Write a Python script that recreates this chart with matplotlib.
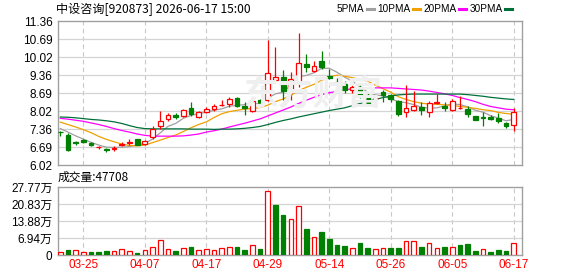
import numpy as np
import matplotlib
matplotlib.use("Agg")
import matplotlib.pyplot as plt
from matplotlib.lines import Line2D

# ---------------- data ----------------
dates = ['03-20','03-23','03-24','03-25','03-26','03-27','03-30','03-31','04-01','04-02',
         '04-03','04-07','04-08','04-09','04-10','04-13','04-14','04-15','04-16','04-17',
         '04-20','04-21','04-22','04-23','04-24','04-27','04-28','04-29','04-30','05-06',
         '05-07','05-08','05-11','05-12','05-13','05-14','05-15','05-18','05-19','05-20',
         '05-21','05-22','05-25','05-26','05-27','05-28','05-29','06-01','06-02','06-03',
         '06-04','06-05','06-08','06-09','06-10','06-11','06-12','06-15','06-16','06-17']

open_ = [7.25, 7.12, 6.86, 6.93, 6.83, 6.67, 6.61, 6.63, 6.77, 6.85,
         6.98, 6.80, 7.06, 7.48, 7.72, 7.89, 7.84, 8.12, 7.81, 7.99,
         8.08, 8.24, 8.27, 8.52, 8.20, 8.03, 8.43, 8.44, 9.16, 9.30,
         8.78, 9.07, 9.78, 9.50, 9.88, 9.31, 9.08, 9.03, 8.80, 8.93,
         8.63, 8.49, 8.72, 8.60, 8.38, 7.98, 8.07, 8.16, 8.00, 8.31,
         8.22, 8.07, 8.13, 8.10, 7.82, 7.79, 7.80, 7.76, 7.57, 7.52]
high = [7.27, 7.21, 6.90, 6.98, 6.88, 6.73, 6.66, 6.72, 6.86, 6.97,
        7.00, 6.93, 7.48, 8.01, 7.93, 7.95, 8.08, 8.35, 8.01, 8.16,
        8.30, 8.42, 8.56, 8.55, 8.35, 8.45, 8.47, 10.66, 10.38, 9.55,
        9.46, 10.90, 10.12, 9.89, 10.26, 9.58, 9.26, 9.15, 8.97, 9.03,
        8.68, 8.56, 8.80, 8.66, 8.42, 9.00, 8.77, 8.35, 8.40, 8.65,
        8.35, 8.47, 8.58, 8.19, 7.85, 7.98, 7.86, 7.93, 7.63, 8.12]
low = [7.10, 6.55, 6.76, 6.85, 6.73, 6.63, 6.51, 6.55, 6.74, 6.78,
       6.76, 6.77, 7.00, 7.37, 7.66, 7.72, 7.80, 7.85, 7.75, 7.95,
       8.03, 8.22, 8.17, 8.18, 7.87, 7.98, 8.21, 8.41, 9.12, 8.43,
       8.42, 8.93, 9.48, 9.47, 9.59, 9.21, 8.98, 8.68, 8.68, 8.51,
       8.23, 8.27, 8.35, 8.35, 7.82, 7.80, 8.03, 7.86, 7.80, 8.28,
       8.04, 8.04, 8.10, 7.80, 7.68, 7.45, 7.68, 7.58, 7.41, 7.29]
close = [7.23, 6.57, 6.84, 6.88, 6.77, 6.69, 6.59, 6.65, 6.81, 6.87,
         6.78, 6.90, 7.37, 7.66, 7.86, 7.81, 8.05, 7.92, 7.97, 8.11,
         8.19, 8.26, 8.48, 8.22, 8.14, 8.38, 8.24, 9.42, 9.30, 8.77,
         9.20, 9.80, 9.65, 9.68, 9.66, 9.26, 9.05, 8.79, 8.92, 8.58,
         8.28, 8.51, 8.61, 8.48, 7.90, 8.14, 8.22, 8.06, 8.33, 8.34,
         8.12, 8.38, 8.15, 7.92, 7.70, 7.78, 7.71, 7.65, 7.46, 7.98]

# volume in 万 (10k shares)
volume = [1.1, 2.0, 1.9, 1.1, 1.2, 1.2, 1.6, 1.5, 2.3, 1.5,
          0.8, 2.0, 3.4, 6.1, 2.3, 1.6, 2.7, 3.25, 2.0, 2.3,
          2.0, 2.85, 3.1, 3.25, 2.2, 3.9, 2.4, 26.0, 20.3, 16.3,
          14.5, 19.9, 10.6, 7.2, 9.5, 6.5, 4.07, 3.66, 2.7, 4.74,
          3.0, 2.44, 2.7, 3.0, 3.0, 5.7, 5.7, 3.25, 4.74, 2.7,
          3.25, 3.25, 4.07, 4.5, 1.6, 2.44, 1.2, 2.0, 1.6, 4.77]

ma5 = [7.37, 7.24, 7.10, 6.98, 6.86, 6.76, 6.68, 6.67, 6.68, 6.70,
       6.76, 6.82, 6.98, 7.21, 7.45, 7.56, 7.75, 7.86, 7.92, 7.98,
       8.05, 8.10, 8.20, 8.23, 8.26, 8.30, 8.29, 8.50, 8.66, 8.72,
       8.99, 9.30, 9.34, 9.44, 9.60, 9.61, 9.46, 9.28, 9.13, 8.92,
       8.72, 8.62, 8.58, 8.47, 8.37, 8.33, 8.26, 8.16, 8.13, 8.14,
       8.21, 8.29, 8.26, 8.18, 8.05, 7.98, 7.85, 7.76, 7.66, 7.71]
ma10 = [7.61, 7.52, 7.43, 7.33, 7.22, 7.08, 6.97, 6.88, 6.80, 6.74,
        6.73, 6.76, 6.85, 6.94, 7.04, 7.13, 7.26, 7.40, 7.52, 7.62,
        7.78, 7.92, 8.00, 8.05, 8.09, 8.12, 8.15, 8.24, 8.37, 8.47,
        8.60, 8.78, 8.90, 9.01, 9.16, 9.29, 9.35, 9.31, 9.26, 9.19,
        9.13, 8.98, 8.85, 8.72, 8.55, 8.45, 8.37, 8.31, 8.28, 8.27,
        8.25, 8.23, 8.19, 8.16, 8.12, 8.07, 8.04, 7.97, 7.93, 7.90]
ma20 = [7.75, 7.72, 7.68, 7.64, 7.58, 7.52, 7.45, 7.37, 7.30, 7.24,
        7.17, 7.12, 7.09, 7.09, 7.09, 7.09, 7.10, 7.13, 7.17, 7.24,
        7.29, 7.35, 7.43, 7.50, 7.57, 7.65, 7.73, 7.84, 7.95, 8.06,
        8.17, 8.30, 8.42, 8.53, 8.63, 8.70, 8.75, 8.80, 8.85, 8.88,
        8.88, 8.88, 8.88, 8.88, 8.86, 8.84, 8.82, 8.80, 8.76, 8.71,
        8.66, 8.60, 8.52, 8.45, 8.37, 8.27, 8.19, 8.14, 8.09, 8.07]
ma30 = [7.80, 7.79, 7.77, 7.74, 7.71, 7.69, 7.66, 7.62, 7.56, 7.48,
        7.41, 7.37, 7.36, 7.36, 7.36, 7.36, 7.36, 7.35, 7.35, 7.35,
        7.34, 7.35, 7.35, 7.36, 7.38, 7.41, 7.45, 7.52, 7.60, 7.67,
        7.73, 7.80, 7.86, 7.92, 7.98, 8.04, 8.09, 8.14, 8.22, 8.30,
        8.38, 8.45, 8.52, 8.58, 8.62, 8.64, 8.65, 8.65, 8.65, 8.65,
        8.65, 8.65, 8.65, 8.63, 8.60, 8.57, 8.53, 8.50, 8.47, 8.45]

price_ticks = ['6.02', '6.69', '7.36', '8.02', '8.69', '9.36', '10.02', '10.69', '11.36']
vol_ticks = ['0', '6.94万', '13.88万', '20.83万', '27.77万']
vol_tick_vals = [0, 6.94, 13.88, 20.83, 27.77]
xtick_idx = [3, 11, 19, 27, 35, 43, 51, 59]
title = '中设咨询[920873] 2026-06-17 15:00'
last_vol = '成交量:47708'
ma_names = ['5PMA', '10PMA', '20PMA', '30PMA']
watermark = '东方财富'

# ---------------- style ----------------
RED = '#ff0000'
GREEN = '#008000'
MA_COLORS = ['#a0a0a0', '#f0a000', '#ff00ff', '#00703a']
FRAME = '#a0a0a0'
GRID = '#d4d4d4'
FONT = ['Liberation Sans', 'Noto Sans CJK SC']
CJK = ['Noto Sans CJK SC', 'Liberation Sans']

W, H = 578, 276
fig = plt.figure(figsize=(W / 100, H / 100), dpi=100)
fig.patch.set_facecolor('white')


def rect(l, t, r, b):
    return [l / W, 1 - b / H, (r - l) / W, (b - t) / H]


ax = fig.add_axes(rect(58, 21, 522, 165))
axv = fig.add_axes(rect(58, 187, 522, 255))

n = len(close)
x = np.arange(n)
o = np.array(open_); c = np.array(close); h = np.array(high); l = np.array(low)
up = c >= o
vol = np.array(volume)
vol_up = np.diff(c, prepend=c[0]) >= 0

ymin, ymax = float(price_ticks[0]), float(price_ticks[-1])
pt_vals = np.linspace(ymin, ymax, len(price_ticks))

for a in (ax, axv):
    a.set_xlim(-0.3, n + 0.08)
    for s in a.spines.values():
        s.set_color(FRAME)
        s.set_linewidth(1.0)
    a.tick_params(length=0, labelsize=8.5, pad=4)
    for xi in xtick_idx:
        a.axvline(xi, color='#c8c8c8', lw=0.8, ls=(0, (4, 3)), zorder=0)

ax.set_ylim(ymin, ymax)
ax.set_yticks(pt_vals)
ax.set_yticklabels(price_ticks, fontfamily=FONT)
for v in pt_vals[1:-1]:
    ax.axhline(v, color=GRID, lw=0.9, zorder=0)
ax.set_xticks([])

# watermark
fig.text(313 / W, 1 - 94 / H, watermark, fontfamily=CJK, fontsize=25,
         fontweight='bold', color='#efefef', ha='center', va='center', zorder=0.5,
         style='italic')
ax.set_facecolor('none')
axv.set_facecolor('none')

# MA lines
for m, col in zip([ma5, ma10, ma20, ma30], MA_COLORS):
    ax.plot(x, m, color=col, lw=0.9, zorder=2)

# candles
bw = 0.62
for i in range(n):
    col = RED if up[i] else GREEN
    ax.vlines(x[i], l[i], h[i], color=col, lw=0.9, zorder=3)
    bot = min(o[i], c[i]); hgt = max(abs(c[i] - o[i]), 0.012)
    ax.bar(x[i], hgt, bottom=bot, width=bw,
           facecolor='white' if up[i] else GREEN, edgecolor=col, lw=0.9, zorder=4)

# volume
axv.set_ylim(0, vol_tick_vals[-1])
axv.set_yticks(vol_tick_vals)
axv.set_yticklabels(vol_ticks, fontfamily=FONT)
for v in vol_tick_vals[1:-1]:
    axv.axhline(v, color=GRID, lw=0.9, zorder=0)
for i in range(n):
    axv.bar(x[i], vol[i], width=0.6,
            facecolor='white' if vol_up[i] else GREEN,
            edgecolor=RED if vol_up[i] else GREEN, lw=0.9, zorder=3)
axv.set_xticks(xtick_idx)
axv.set_xticklabels([dates[i] for i in xtick_idx], fontfamily=FONT, color=RED)
axv.tick_params(axis='x', pad=3)

# texts
fig.text(56 / W, 1 - 9 / H, title, fontfamily=CJK, fontsize=8.7, va='center', ha='left')
fig.text(58 / W, 1 - 177 / H, last_vol, fontfamily=CJK, fontsize=8.5, va='center', ha='left')

# legend (chained left to right)
fig.canvas.draw()
r = fig.canvas.get_renderer()
cur = 337.0
for name, col in zip(ma_names, MA_COLORS):
    t = fig.text(cur / W, 1 - 9 / H, name, fontfamily=FONT, fontsize=7.2,
                 va='center', ha='left')
    bb = t.get_window_extent(r)
    x0 = bb.x1 + 2
    fig.add_artist(Line2D([x0 / W, (x0 + 7) / W], [1 - 9 / H, 1 - 9 / H],
                          transform=fig.transFigure, color=col, lw=2.2))
    cur = x0 + 7 + 4

fig.savefig('out.png', dpi=100, facecolor='white')
